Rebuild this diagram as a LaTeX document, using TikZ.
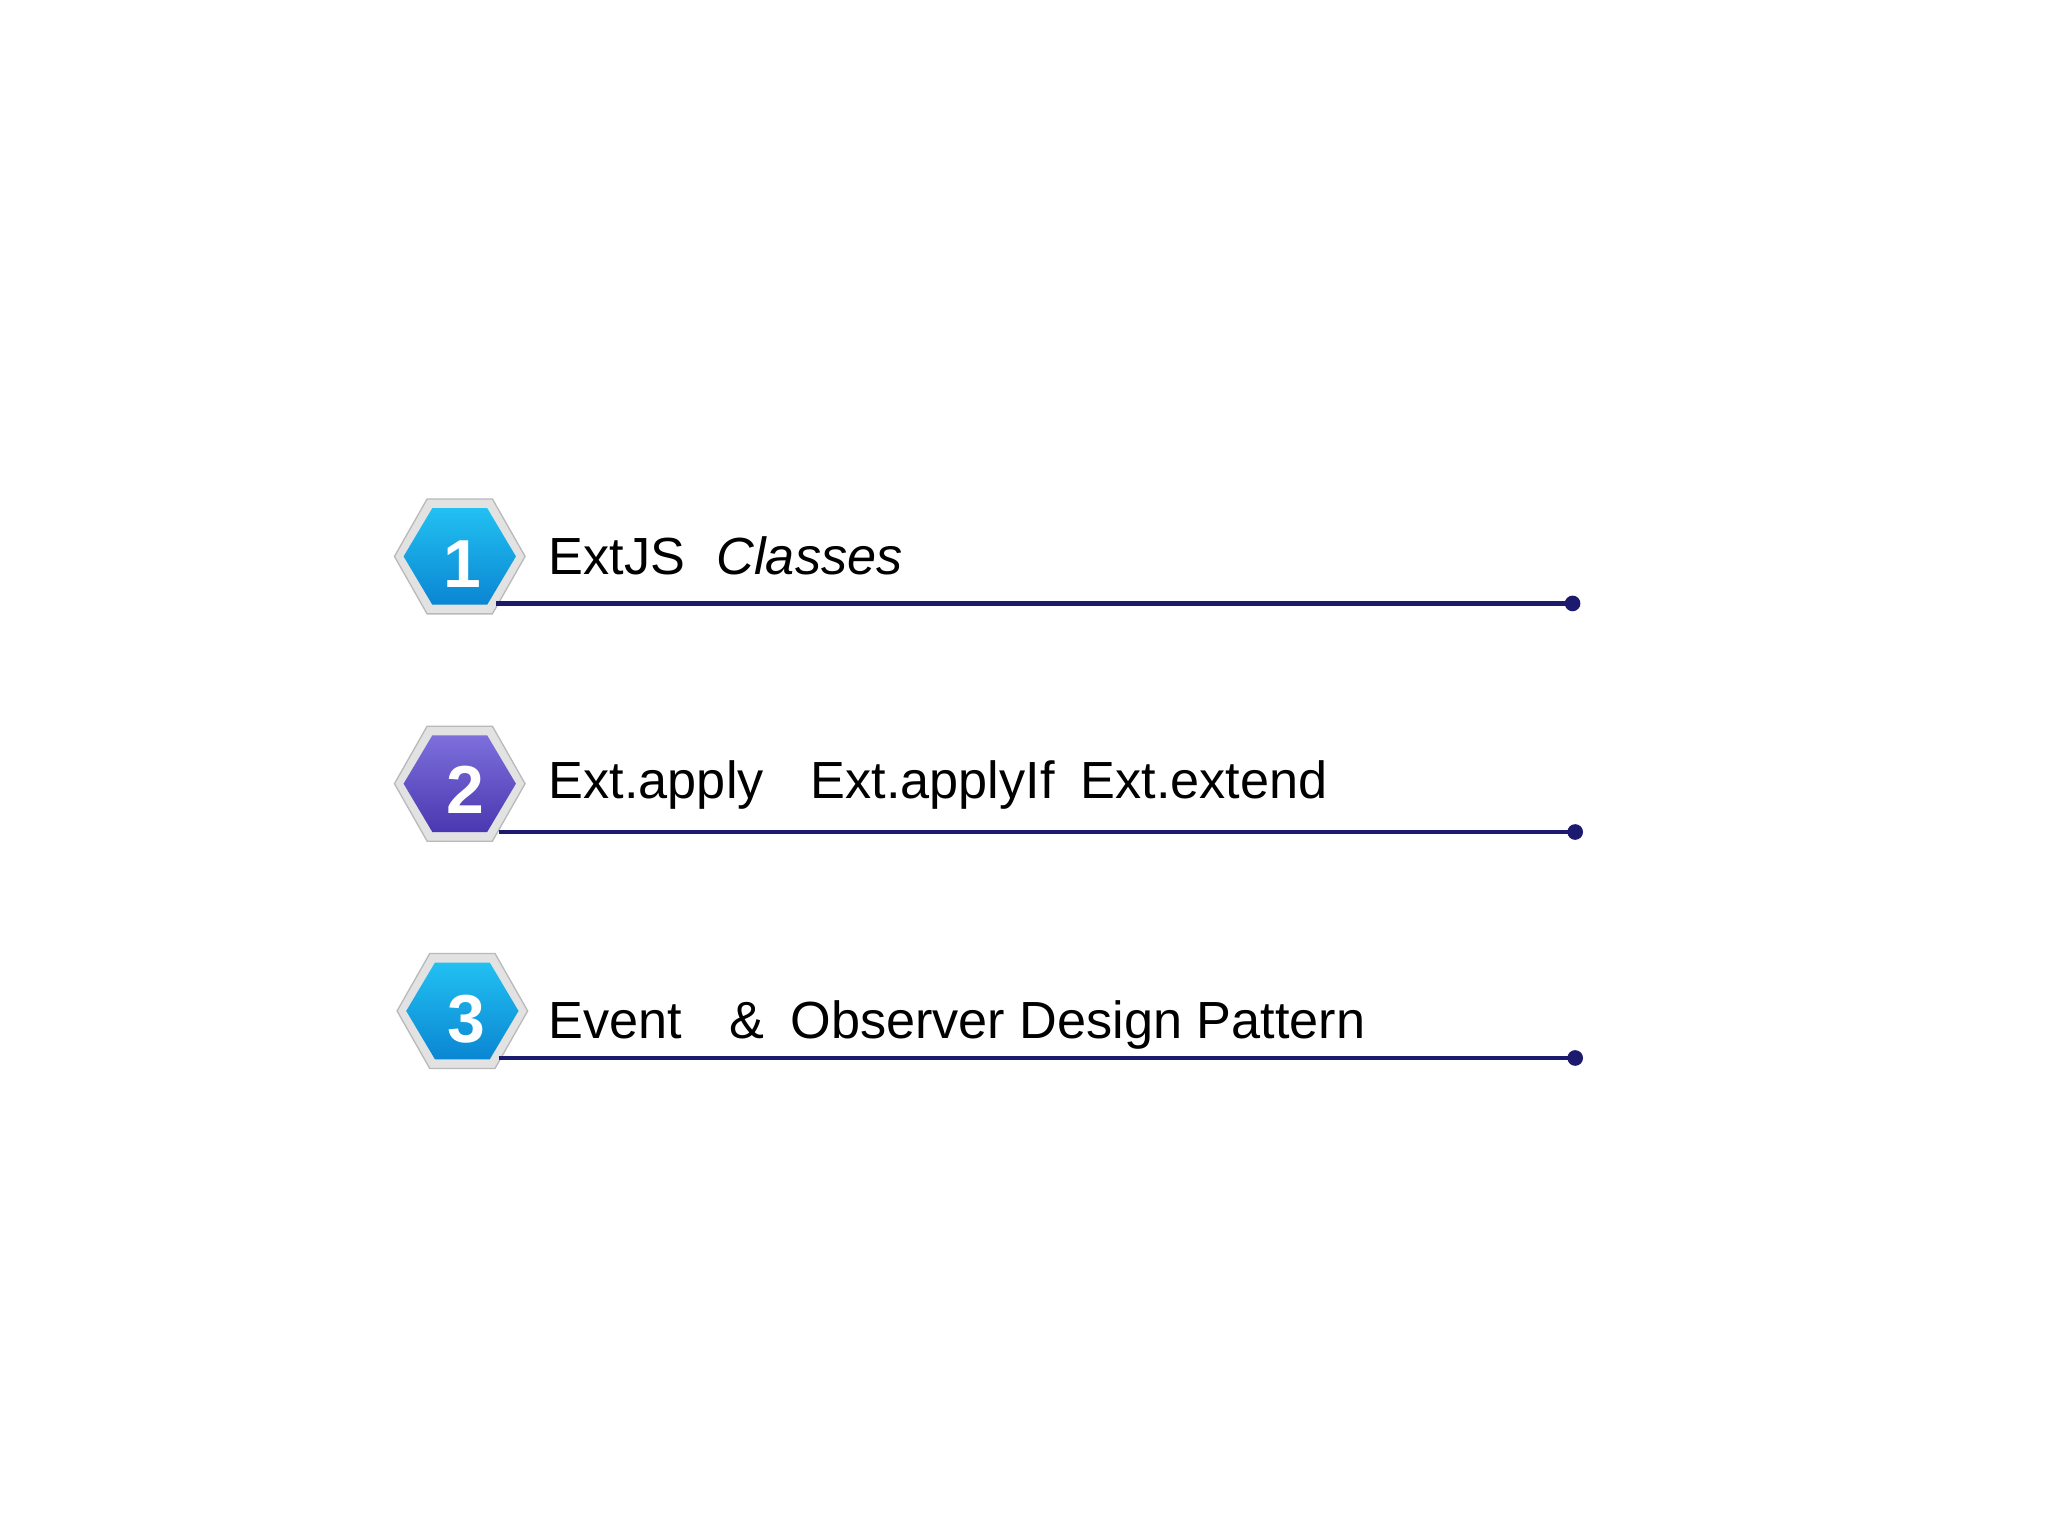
\documentclass[tikz,border=0pt]{standalone}
\usepackage{fontspec}
\setmainfont{Liberation Sans}
\definecolor{navy}{HTML}{1C1A6E}
\definecolor{cyanA}{HTML}{22C0F2}
\definecolor{cyanB}{HTML}{0A86D2}
\definecolor{purA}{HTML}{7D6FDC}
\definecolor{purB}{HTML}{4A38B0}
\definecolor{rimg}{HTML}{E2E2E2}
\begin{document}
\begin{tikzpicture}[x=1pt,y=-1pt,
  conn/.style={draw=navy,line width=3.5pt},
  lbl/.style={anchor=base west,inner sep=0pt,font=\fontsize{40}{48}\selectfont},
  num/.style={text=white,font=\fontsize{52}{60}\selectfont\bfseries,inner sep=0pt}]
\useasboundingbox (0,0) rectangle (1568,1176);
\newcommand\hexbadge[5]{% name, x, y, colA, colB
  \fill[rimg,draw=gray!55,line width=1pt] (#2-50,#3) -- (#2-25,#3-44) -- (#2+25,#3-44) -- (#2+50,#3) -- (#2+25,#3+44) -- (#2-25,#3+44) -- cycle;
  \shade[top color=#4,bottom color=#5] (#2-43,#3) -- (#2-21,#3-37) -- (#2+21,#3-37) -- (#2+43,#3) -- (#2+21,#3+37) -- (#2-21,#3+37) -- cycle;
  \coordinate (#1) at (#2,#3);
}
\hexbadge{h1}{352}{426}{cyanA}{cyanB}
\hexbadge{h2}{352}{600}{purA}{purB}
\hexbadge{h3}{354}{774}{cyanA}{cyanB}
\node[num] (n1) at (354,432) {1};
\node[num] (n2) at (356,605) {2};
\node[num] (n3) at (357,780) {3};
\coordinate (s1) at (380,462); \coordinate (e1) at (1204,462);
\coordinate (s2) at (382,637); \coordinate (e2) at (1206,637);
\coordinate (s3) at (382,810); \coordinate (e3) at (1206,810);
\draw[conn] (s1) -- (e1); \fill[navy] (e1) circle (6);
\draw[conn] (s2) -- (e2); \fill[navy] (e2) circle (6);
\draw[conn] (s3) -- (e3); \fill[navy] (e3) circle (6);
\node[lbl] (t1) at (420,440) {ExtJS\hspace{0.6em}\itshape Classes};
\node[lbl] (t2) at (420,611) {Ext.apply\hspace{0.9em}Ext.applyIf\hspace{0.5em}Ext.extend};
\node[lbl] (t3) at (420,795) {Event\hspace{0.9em}\&\hspace{0.5em}Observer Design Pattern};
\end{tikzpicture}
\end{document}
